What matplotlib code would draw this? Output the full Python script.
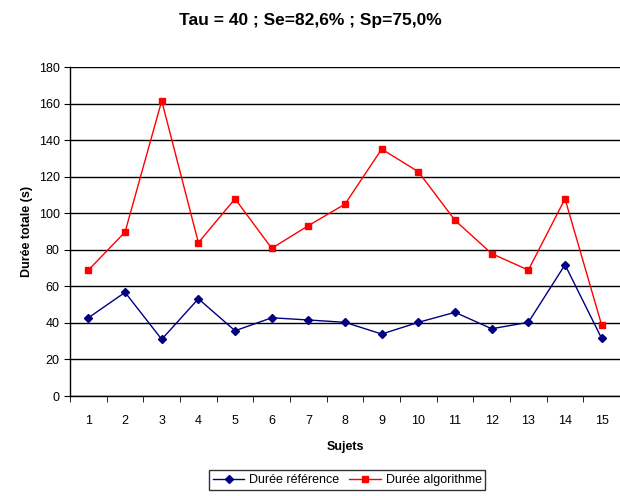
import numpy as np
import matplotlib.pyplot as plt

plt.rcParams['font.family'] = ['Liberation Sans', 'DejaVu Sans']

# --- Données ---
sujets = list(range(1, 16))
duree_reference = [42.8, 56.7, 31.0, 53.2, 35.7, 42.8, 41.6, 40.3, 33.9, 40.3, 45.8, 36.8, 40.3, 71.8, 31.5]
duree_algorithme = [68.9, 89.7, 161.5, 83.9, 107.9, 80.8, 93.2, 105.0, 135.1, 122.7, 96.1, 77.9, 68.9, 107.9, 38.8]
y_ticks = list(range(0, 181, 20))

fig = plt.figure(figsize=(6.2, 4.96), dpi=100)
ax = fig.add_axes([0.113, 0.2016, 0.887, 0.6633])

ax.plot(sujets, duree_reference, color='#000080', lw=1, marker='D', ms=4.5,
        label='Durée référence')
ax.plot(sujets, duree_algorithme, color='#FF0000', lw=1, marker='s', ms=5,
        label='Durée algorithme')

ax.set_xlim(0.5, 15.5)
ax.set_ylim(0, 180)
ax.set_yticks(y_ticks)
ax.set_xticks(sujets)
ax.set_xticks(np.arange(0.5, 15.6, 1), minor=True)
ax.tick_params(axis='x', which='major', length=0, pad=14, labelsize=9)
ax.tick_params(axis='x', which='minor', length=4, direction='out')
ax.tick_params(axis='y', length=4, direction='out', labelsize=9)

ax.grid(axis='y', color='black', lw=1)
ax.set_axisbelow(True)
for s in ['top', 'right']:
    ax.spines[s].set_visible(False)
ax.spines['left'].set_linewidth(1)
ax.spines['bottom'].set_linewidth(1)

ax.set_xlabel('Sujets', fontsize=9, fontweight='bold', labelpad=10)
ax.set_ylabel('Durée totale (s)', fontsize=9, fontweight='bold', labelpad=4)
fig.suptitle('Tau = 40 ; Se=82,6% ; Sp=75,0%', fontsize=12.5, fontweight='bold', y=0.973)

leg = fig.legend(loc='center', ncol=2,
                 fontsize=9, frameon=True, fancybox=False, edgecolor='black',
                 handlelength=2.5, columnspacing=0.8, handletextpad=0.4,
                 borderpad=0.3)
leg.set_bbox_to_anchor((0.56, 0.032), transform=fig.transFigure)
leg.get_frame().set_linewidth(1)

fig.savefig('out.png', dpi=100)
